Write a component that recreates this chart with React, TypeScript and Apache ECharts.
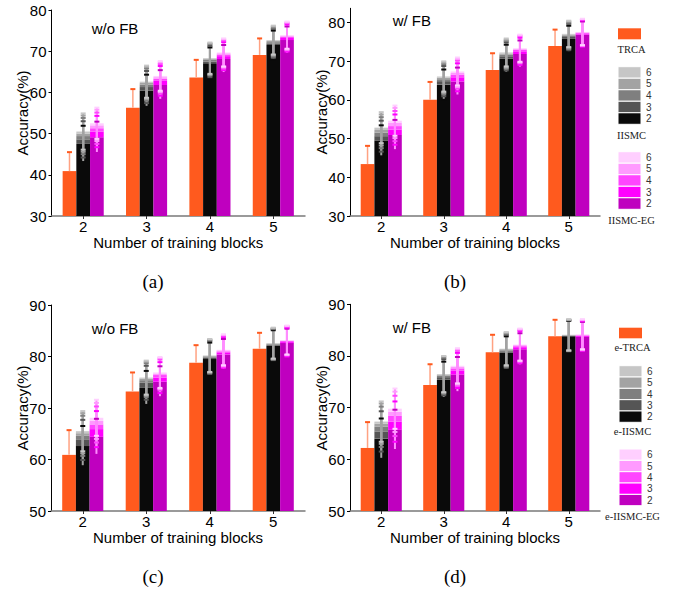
import React, { useEffect, useRef } from 'react';
import * as echarts from 'echarts';

// ---------------- data ----------------
const blocks = ['2', '3', '4', '5'];
const configs = ['2', '3', '4', '5', '6'];
const yTicksTop = [30, 40, 50, 60, 70, 80];
const yTicksBottom = [50, 60, 70, 80, 90];

// Panel (a)  w/o FB
const trcaMeanA = [40.9, 56.3, 63.6, 69.1];
const trcaStdA = [4.6, 4.5, 4.3, 4.0];
const iismcMeanA = [
  [47.5, 60.4, 67.1, 71.5],
  [48.6, 61.3, 67.5, 71.9],
  [49.4, 61.9, 67.9, 72.2],
  [50.0, 62.3, 68.1, 72.5],
  [50.5, 62.6, 68.3, 72.7],
];
const iismcStdA = [4.4, 3.9, 3.8, 3.5];
const egMeanA = [
  [49.1, 61.8, 68.1, 72.7],
  [50.5, 62.8, 68.8, 73.2],
  [51.3, 63.3, 69.2, 73.5],
  [52.0, 63.7, 69.5, 73.7],
  [52.5, 64.0, 69.7, 73.9],
];
const egStdA = [3.8, 3.6, 3.4, 3.3];

// Panel (b)  w/ FB
const trcaMeanB = [43.4, 60.0, 67.7, 73.9];
const trcaStdB = [4.7, 4.6, 4.3, 4.2];
const iismcMeanB = [
  [49.4, 63.9, 70.6, 75.7],
  [50.6, 64.8, 71.2, 76.2],
  [51.5, 65.3, 71.6, 76.5],
  [52.2, 65.7, 71.9, 76.8],
  [52.8, 66.0, 72.2, 77.0],
];
const iismcStdB = [4.0, 3.9, 3.6, 3.4];
const egMeanB = [
  [50.9, 64.7, 71.8, 76.8],
  [52.3, 65.8, 72.5, 77.1],
  [53.2, 66.5, 72.9, 77.3],
  [54.0, 66.9, 73.1, 77.4],
  [54.6, 67.3, 73.3, 77.5],
];
const egStdB = [3.9, 3.6, 3.5, 3.4];

// Panel (c)  w/o FB (ensemble)
const trcaMeanC = [60.9, 73.2, 78.8, 81.5];
const trcaStdC = [4.8, 3.7, 3.4, 3.1];
const iismcMeanC = [
  [62.6, 73.9, 79.5, 82.1],
  [63.8, 74.9, 79.8, 82.3],
  [64.6, 75.4, 80.0, 82.4],
  [65.1, 75.7, 80.1, 82.5],
  [65.5, 75.9, 80.2, 82.6],
];
const iismcStdC = [3.9, 3.3, 3.2, 3.0];
const egMeanC = [
  [64.4, 75.1, 80.4, 82.6],
  [65.9, 75.9, 80.8, 82.8],
  [66.8, 76.4, 81.0, 83.0],
  [67.5, 76.7, 81.2, 83.1],
  [68.1, 76.9, 81.3, 83.2],
];
const egStdC = [3.5, 3.0, 3.0, 2.8];

// Panel (d)  w/ FB (ensemble)
const trcaMeanD = [62.2, 74.4, 80.7, 83.8];
const trcaStdD = [5.0, 4.0, 3.4, 3.2];
const iismcMeanD = [
  [64.0, 75.4, 80.6, 83.8],
  [65.4, 75.9, 80.9, 83.9],
  [66.3, 76.2, 81.1, 84.0],
  [66.9, 76.4, 81.3, 84.0],
  [67.3, 76.5, 81.4, 84.1],
];
const iismcStdD = [3.9, 3.5, 3.2, 3.0];
const egMeanD = [
  [65.7, 76.4, 81.3, 83.7],
  [67.3, 77.2, 81.7, 83.9],
  [68.4, 77.6, 81.9, 84.0],
  [69.2, 77.9, 82.1, 84.1],
  [69.8, 78.1, 82.2, 84.2],
];
const egStdD = [3.9, 3.4, 3.1, 2.9];

// ---------------- styles ----------------
const SANS = '"Liberation Sans", Arial, Helvetica, sans-serif';
const SERIF = '"Liberation Serif", "Times New Roman", serif';
const ORANGE = '#FF5A1E';
const ORANGE_ERR = '#FFA282';
const GREYS = ['#0a0a0a', '#555555', '#7f7f7f', '#a3a3a3', '#c6c6c6'];
const PINKS = ['#BF00BF', '#FF00FF', '#FF45FF', '#FF9AFF', '#FFCFFF'];
const GREY_ERR = '#a2a2a2';
const PINK_ERR = '#FF8CFF';
const BW = 13.7;
const CAP = 5;

const panels = [
  {
    trcaMean: trcaMeanA, trcaStd: trcaStdA, iismcMean: iismcMeanA, iismcStd: iismcStdA, egMean: egMeanA, egStd: egStdA,
    grid: { left: 51.5, top: 10, width: 253.5, height: 206 }, min: 30, max: 80, ticks: yTicksTop,
    title: 'w/o FB', titlePos: [91.7, 28.3], yName: [22.5, 113], letter: '(a)', letterPos: [153, 281],
  },
  {
    trcaMean: trcaMeanB, trcaStd: trcaStdB, iismcMean: iismcMeanB, iismcStd: iismcStdB, egMean: egMeanB, egStd: egStdB,
    grid: { left: 350, top: 8.3, width: 250, height: 207.7 }, min: 30, max: 83.6, ticks: yTicksTop,
    title: 'w/ FB', titlePos: [392.7, 20.7], yName: [321, 112], letter: '(b)', letterPos: [455, 281],
  },
  {
    trcaMean: trcaMeanC, trcaStd: trcaStdC, iismcMean: iismcMeanC, iismcStd: iismcStdC, egMean: egMeanC, egStd: egStdC,
    grid: { left: 51, top: 305, width: 254, height: 206 }, min: 50, max: 90, ticks: yTicksBottom,
    title: 'w/o FB', titlePos: [91.7, 328.3], yName: [22.5, 408], letter: '(c)', letterPos: [153, 576],
  },
  {
    trcaMean: trcaMeanD, trcaStd: trcaStdD, iismcMean: iismcMeanD, iismcStd: iismcStdD, egMean: egMeanD, egStd: egStdD,
    grid: { left: 350, top: 304.3, width: 250, height: 206.7 }, min: 50, max: 90, ticks: yTicksBottom,
    title: 'w/ FB', titlePos: [392.7, 327.3], yName: [321, 408], letter: '(d)', letterPos: [455, 576],
  },
];

const legends = [
  { names: ['TRCA', 'IISMC', 'IISMC-EG'], x: 618, orange: [28.3, 39.3], grey: [66.7, 124.3], pink: [151.7, 209.3], labelY: [49.5, 135, 220] },
  { names: ['e-TRCA', 'e-IISMC', 'e-IISMC-EG'], x: 619, orange: [327.7, 338.3], grey: [365.7, 422.3], pink: [449, 505.7], labelY: [347.3, 431.7, 516.7] },
];

function errSeries(gi: number, means: number[], stds: number[], slot: number, lineColor: string, capColor: string, oneSided: boolean) {
  return {
    type: 'custom',
    xAxisIndex: gi,
    yAxisIndex: gi,
    z: 5,
    silent: true,
    data: means.map((m, k) => [k, m, stds[k]]),
    renderItem: (params: any, api: any) => {
      const k = api.value(0);
      const m = api.value(1);
      const s = api.value(2);
      const c = api.coord([k, m]);
      const x = c[0] + slot * BW;
      const top = api.coord([k, m + s])[1];
      const bot = oneSided ? c[1] : api.coord([k, m - s])[1];
      const children: any[] = [
        { type: 'line', z2: 1, shape: { x1: x, y1: bot, x2: x, y2: top }, style: { stroke: lineColor, lineWidth: oneSided ? 1.5 : 2 } },
        { type: 'rect', z2: 10, shape: { x: x - CAP / 2, y: top - 1, width: CAP, height: 2 }, style: { fill: capColor } },
      ];
      if (!oneSided) {
        children.push({ type: 'rect', z2: 10, shape: { x: x - CAP / 2, y: bot - 1, width: CAP, height: 2 }, style: { fill: capColor } });
      }
      return { type: 'group', children };
    },
  };
}

function buildOption() {
  const grids: any[] = [];
  const xAxes: any[] = [];
  const yAxes: any[] = [];
  const series: any[] = [];
  const graphics: any[] = [];

  panels.forEach((p, i) => {
    grids.push({ ...p.grid, containLabel: false, outerBoundsMode: 'none' });
    xAxes.push({
      type: 'category',
      gridIndex: i,
      data: blocks,
      axisLine: { show: true, lineStyle: { color: '#7a7a7a', width: 1.5 } },
      axisTick: { show: true, alignWithLabel: true, length: 3, lineStyle: { color: '#333' } },
      axisLabel: { fontSize: 15, fontFamily: SANS, color: '#000', margin: 3 },
      splitLine: { show: false },
      name: 'Number of training blocks',
      nameLocation: 'middle',
      nameGap: 16,
      nameTextStyle: { fontSize: 15, fontFamily: SANS, color: '#000' },
    });
    yAxes.push({
      type: 'value',
      gridIndex: i,
      min: p.min,
      max: p.max,
      interval: 10,
      axisLine: { show: true, lineStyle: { color: '#000', width: 1 } },
      axisTick: { show: true, length: 3, lineStyle: { color: '#000' }, customValues: p.ticks },
      axisLabel: { fontSize: 15, fontFamily: SANS, color: '#000', margin: 5, customValues: p.ticks },
      splitLine: { show: false },
    });

    // bars
    series.push({
      type: 'bar', xAxisIndex: i, yAxisIndex: i, data: p.trcaMean, barWidth: BW, barGap: '0%',
      itemStyle: { color: ORANGE }, z: 2, silent: true,
    });
    p.iismcMean.forEach((row, c) => {
      series.push({
        type: 'bar', xAxisIndex: i, yAxisIndex: i, stack: 'iismc' + i, barWidth: BW, barGap: '0%',
        data: row.map((v, k) => (c === 0 ? v : +(v - p.iismcMean[c - 1][k]).toFixed(3))),
        itemStyle: { color: GREYS[c] }, z: 2, silent: true,
      });
    });
    p.egMean.forEach((row, c) => {
      series.push({
        type: 'bar', xAxisIndex: i, yAxisIndex: i, stack: 'eg' + i, barWidth: BW, barGap: '0%',
        data: row.map((v, k) => (c === 0 ? v : +(v - p.egMean[c - 1][k]).toFixed(3))),
        itemStyle: { color: PINKS[c] }, z: 2, silent: true,
      });
    });

    // error bars
    series.push(errSeries(i, p.trcaMean, p.trcaStd, -1, ORANGE_ERR, ORANGE, true));
    p.iismcMean.forEach((row, c) => series.push(errSeries(i, row, p.iismcStd, 0, GREY_ERR, GREYS[c], false)));
    p.egMean.forEach((row, c) => series.push(errSeries(i, row, p.egStd, 1, PINK_ERR, PINKS[c], false)));

    // texts
    graphics.push({
      type: 'text', x: p.titlePos[0], y: p.titlePos[1],
      style: { text: p.title, font: `15px ${SANS}`, fill: '#000', textAlign: 'left', align: 'left', textVerticalAlign: 'middle', verticalAlign: 'middle' },
    });
    graphics.push({
      type: 'text', x: p.yName[0], y: p.yName[1], rotation: Math.PI / 2,
      style: { text: 'Accuracy(%)', font: `15px ${SANS}`, fill: '#000', textAlign: 'center', align: 'center', textVerticalAlign: 'middle', verticalAlign: 'middle' },
    });
    graphics.push({
      type: 'text', x: p.letterPos[0], y: p.letterPos[1],
      style: { text: p.letter, font: `19px ${SERIF}`, fill: '#000', textAlign: 'center', align: 'center', textVerticalAlign: 'middle', verticalAlign: 'middle' },
    });
  });

  // legends
  legends.forEach((lg) => {
    const w = 23;
    const cx = lg.x + w / 2;
    graphics.push({ type: 'rect', shape: { x: lg.x, y: lg.orange[0], width: w, height: lg.orange[1] - lg.orange[0] }, style: { fill: ORANGE } });
    const blocksDef = [
      { range: lg.grey, colors: GREYS },
      { range: lg.pink, colors: PINKS },
    ];
    blocksDef.forEach((b) => {
      const h = (b.range[1] - b.range[0]) / 5;
      for (let j = 0; j < 5; j++) {
        const c = 4 - j; // top is config 6
        const y = b.range[0] + j * h;
        graphics.push({ type: 'rect', shape: { x: lg.x, y, width: w, height: h }, style: { fill: b.colors[c], stroke: '#fff', lineWidth: 1 } });
        graphics.push({
          type: 'text', x: lg.x + w + 5, y: y + h / 2,
          style: { text: configs[c], font: `10px ${SANS}`, fill: '#333', textAlign: 'left', align: 'left', textVerticalAlign: 'middle', verticalAlign: 'middle' },
        });
      }
    });
    lg.names.forEach((n, j) => {
      graphics.push({
        type: 'text', x: cx + 2, y: lg.labelY[j],
        style: { text: n, font: `10.5px ${SERIF}`, fill: '#222', textAlign: 'center', align: 'center', textVerticalAlign: 'middle', verticalAlign: 'middle' },
      });
    });
  });

  return {
    animation: false,
    backgroundColor: '#fff',
    grid: grids,
    xAxis: xAxes,
    yAxis: yAxes,
    series,
    graphic: { elements: graphics },
  };
}

export default function App() {
  const ref = useRef<HTMLDivElement>(null);
  useEffect(() => {
    document.body.style.margin = '0';
    if (!ref.current) return;
    const chart = echarts.init(ref.current, null, { renderer: 'svg' });
    chart.setOption(buildOption() as any);
    return () => chart.dispose();
  }, []);
  return <div ref={ref} style={{ width: 675, height: 591 }} />;
}
